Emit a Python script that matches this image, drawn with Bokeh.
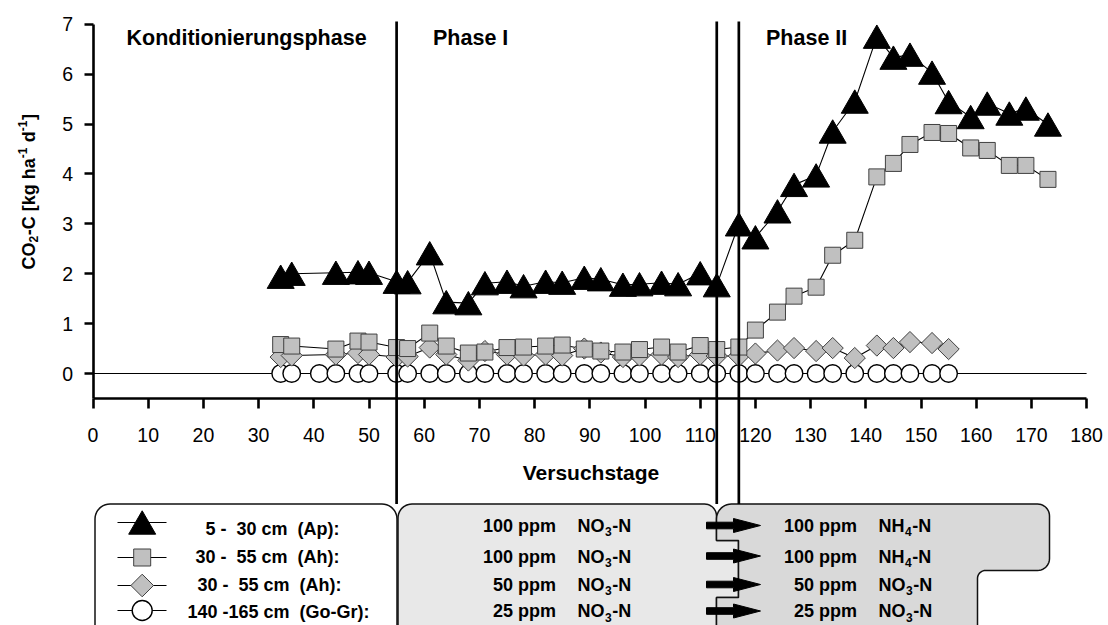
import math
from bokeh.plotting import figure
from bokeh.models import LinearAxis, FixedTicker, Range1d, ColumnDataSource
from bokeh.core.properties import value
from bokeh.transform import dodge
from bokeh.embed import file_html
from bokeh.resources import INLINE

# ---------------- data ----------------
days_ap = [34, 36, 44, 48, 50, 55, 57, 61, 64, 68, 71, 75, 78, 82, 85, 89, 92, 96, 99, 103,
           106, 110, 113, 117, 120, 124, 127, 131, 134, 138, 142, 145, 148, 152, 155, 159, 162, 166, 169, 173]
co2_ap = [1.94, 2.00, 2.02, 2.03, 2.02, 1.84, 1.83, 2.41, 1.43, 1.41, 1.81, 1.84, 1.75, 1.84, 1.82, 1.92, 1.89, 1.78, 1.79, 1.82,
          1.79, 2.01, 1.77, 2.99, 2.73, 3.25, 3.78, 3.97, 4.85, 5.45, 6.75, 6.33, 6.39, 6.03, 5.44, 5.14, 5.41, 5.21, 5.31, 4.99]

days_ah100 = [34, 36, 44, 48, 50, 55, 57, 61, 64, 68, 71, 75, 78, 82, 85, 89, 92, 96, 99, 103,
              106, 110, 113, 117, 120, 124, 127, 131, 134, 138, 142, 145, 148, 152, 155, 159, 162, 166, 169, 173]
co2_ah100 = [0.58, 0.55, 0.49, 0.65, 0.63, 0.52, 0.50, 0.81, 0.55, 0.41, 0.43, 0.52, 0.53, 0.55, 0.57, 0.49, 0.45, 0.43, 0.48, 0.53,
             0.43, 0.56, 0.48, 0.53, 0.87, 1.23, 1.55, 1.73, 2.37, 2.67, 3.94, 4.21, 4.59, 4.83, 4.81, 4.52, 4.47, 4.17, 4.17, 3.89]

days_ah50 = [34, 36, 44, 48, 50, 55, 57, 61, 64, 68, 71, 75, 78, 82, 85, 89, 92, 96, 99, 103,
             106, 110, 113, 117, 120, 124, 127, 131, 134, 138, 142, 145, 148, 152, 155]
co2_ah50 = [0.33, 0.36, 0.38, 0.41, 0.38, 0.33, 0.34, 0.52, 0.38, 0.26, 0.45, 0.38, 0.36, 0.38, 0.36, 0.50, 0.42, 0.33, 0.36, 0.38,
            0.33, 0.38, 0.35, 0.35, 0.40, 0.46, 0.51, 0.45, 0.51, 0.31, 0.56, 0.51, 0.63, 0.61, 0.49]

days_gogr = [34, 36, 41, 44, 48, 50, 55, 57, 61, 64, 68, 71, 75, 78, 82, 85, 89, 92, 96, 99, 103,
             106, 110, 113, 117, 120, 124, 127, 131, 134, 138, 142, 145, 148, 152, 155]
co2_gogr = [0.0, 0.0, 0.0, 0.0, 0.0, 0.0, 0.0, 0.0, 0.0, 0.0, 0.0, 0.0, 0.0, 0.0, 0.0, 0.0, 0.0, 0.0,
            0.0, 0.0, 0.0, 0.0, 0.0, 0.0, 0.0, 0.0, 0.0, 0.0, 0.0, 0.0, 0.0, 0.0, 0.0, 0.0, 0.0, 0.0]

x_ticks = [0, 10, 20, 30, 40, 50, 60, 70, 80, 90, 100, 110, 120, 130, 140, 150, 160, 170, 180]
y_ticks = [0, 1, 2, 3, 4, 5, 6, 7]
phase_days = [55, 113, 117]
phase_names = ["Konditionierungsphase", "Phase I", "Phase II"]
x_title = "Versuchstage"
y_title_parts = [("CO", 0), ("2", 1), ("-C [kg ha", 0), ("-1", -1), ("\u00a0d", 0), ("-1", -1), ("]", 0)]
legend_labels = ["5 -\u00a0\u00a030 cm\u00a0\u00a0(Ap):", "30 -\u00a0\u00a055 cm\u00a0\u00a0(Ah):",
                 "30 -\u00a0\u00a055 cm\u00a0\u00a0(Ah):", "140 -165 cm\u00a0\u00a0(Go-Gr):"]
phase1_conc = ["100 ppm", "100 ppm", "50 ppm", "25 ppm"]
phase1_form = [("NO", "3"), ("NO", "3"), ("NO", "3"), ("NO", "3")]
phase2_conc = ["100 ppm", "100 ppm", "50 ppm", "25 ppm"]
phase2_form = [("NH", "4"), ("NH", "4"), ("NO", "3"), ("NO", "3")]

# ---------------- layout helpers (picture pixels -> data) ----------------
W, H = 1108, 625
PX0, SX = 92.5, 5.52      # picture x of day 0, px per day
PY0, SY = 373.0, 49.9     # picture y of value 0, px per unit

def dx(px):
    return (px - PX0) / SX

def dy(py):
    return (PY0 - py) / SY

AB = {' ': 278, '\u00a0': 278, '-': 333, '[': 333, ']': 333, 'C': 722, 'H': 722, 'N': 722, 'O': 778,
      'a': 556, 'd': 611, 'g': 611, 'h': 611, 'k': 556, '1': 556, '2': 556, '3': 556, '4': 556}

def tw(s, size):
    return sum(AB[c] for c in s) * size / 1000.0

def arc(cx, cy, r, a0, a1, n=10):
    pts = []
    for i in range(n + 1):
        t = math.radians(a0 + (a1 - a0) * i / n)
        pts.append((cx + r * math.cos(t), cy - r * math.sin(t)))
    return pts

FONT = value("Liberation Sans")

p = figure(width=W, height=H, x_range=Range1d(dx(0), dx(W)), y_range=Range1d(dy(H), dy(0)),
           x_axis_type=None, y_axis_type=None, toolbar_location=None, output_backend="svg", min_border=0)
p.outline_line_color = None
p.background_fill_color = "white"
p.border_fill_color = "white"

# ---------------- bottom boxes ----------------
def add_poly(pts, fill, line="#111111", lw=1.5):
    p.patch([dx(a) for a, b in pts], [dy(b) for a, b in pts], fill_color=fill, line_color=line, line_width=lw)

top, bot = 503.5, 640
lb = arc(94.5 + 15, top + 15, 15, 180, 90) + arc(396.5 - 15, top + 15, 15, 90, 0) + \
     arc(396.5 - 15, bot - 15, 15, 0, -90) + arc(94.5 + 15, bot - 15, 15, -90, -180)
add_poly(lb, "white")

mb = [(397.5, bot)] + arc(397.5 + 14, top + 14, 14, 180, 90) + arc(716 - 12, top + 12, 12, 90, 0) + \
     [(716, 540), (738, 540), (738, 597), (716, 597), (716, bot)]
add_poly(mb, "#e8e8e8")

rb = [(716, bot), (716, 597), (738, 597), (738, 540), (716, 540)] + arc(716 + 15, top + 15, 15, 180, 90) + \
     arc(1049 - 12, top + 12, 12, 90, 0) + arc(1049 - 12, 570 - 12, 12, 0, -90) + \
     arc(977 + 8, 570 + 8, 8, 90, 180) + arc(977 - 12, bot - 12, 12, 0, -90)
add_poly(rb, "#d9d9d9")

# arrows
row_c = [525, 555.5, 584, 610.5]
axs, ays = [], []
for c in row_c:
    pts = [(706, c - 3.3), (733, c - 3.3), (733, c - 7), (760, c), (733, c + 7), (733, c + 3.3), (706, c + 3.3)]
    axs.append([dx(a) for a, b in pts])
    ays.append([dy(b) for a, b in pts])
p.patches(axs, ays, fill_color="black", line_color="black", line_width=1)

# ---------------- axes ----------------
xaxis = LinearAxis(fixed_location=-0.5, bounds=(x_ticks[0], x_ticks[-1]), ticker=FixedTicker(ticks=x_ticks),
                   axis_line_width=2.6, axis_line_color="black",
                   major_tick_line_width=2.6, major_tick_out=10, major_tick_in=0,
                   minor_tick_out=0, minor_tick_in=0,
                   major_label_text_font="Liberation Sans", major_label_text_font_size="19.5px",
                   major_label_text_color="black", major_label_standoff=20)
p.add_layout(xaxis, "below")
yaxis = LinearAxis(fixed_location=0, bounds=(-0.5, y_ticks[-1]), ticker=FixedTicker(ticks=y_ticks),
                   axis_line_width=2.6, axis_line_color="black",
                   major_tick_line_width=2.6, major_tick_out=9, major_tick_in=0,
                   minor_tick_out=0, minor_tick_in=0,
                   major_label_text_font="Liberation Sans", major_label_text_font_size="19.5px",
                   major_label_text_color="black", major_label_standoff=11)
p.add_layout(yaxis, "left")

# zero line
p.line([x_ticks[0], x_ticks[-1]], [0, 0], line_color="black", line_width=1)

# ---------------- series ----------------
p.line(days_gogr, co2_gogr, line_color="black", line_width=1.1)
p.line(days_ah50, co2_ah50, line_color="black", line_width=1.1)
p.line(days_ah100, co2_ah100, line_color="black", line_width=1.1)
p.line(days_ap, co2_ap, line_color="black", line_width=1.1)

p.scatter(days_gogr, co2_gogr, marker="circle", size=17.5, fill_color="white", line_color="black", line_width=1.4)
p.scatter(days_ah50, co2_ah50, marker="square", angle=math.pi / 4, size=15, fill_color="#c0c0c0",
          line_color="#404040", line_width=1)
p.scatter(days_ah100, co2_ah100, marker="square", size=16, fill_color="#c0c0c0", line_color="#404040", line_width=1)
src_ap = ColumnDataSource(dict(x=days_ap, y=co2_ap))
TRI = 27
tri_shift = TRI * math.sqrt(3) / 2 / 6 / SY
p.scatter(x="x", y=dodge("y", -tri_shift), source=src_ap, marker="triangle", size=TRI,
          fill_color="black", line_color="black", line_width=1)

# phase lines
p.segment(x0=phase_days, y0=[dy(21)] * 3, x1=phase_days, y1=[dy(top)] * 3, line_color="black", line_width=2.7)

# ---------------- texts (anchors are visual centre lines) ----------------
def txt(xs, ys, texts, size, bold=True, align="left", angle=0.0):
    p.text(x=xs, y=ys, text=texts, text_font=FONT, text_font_style="bold" if bold else "normal",
           text_font_size=size, text_align=align, text_baseline="middle", angle=angle, text_color="black")

# phase names
txt([dx(126), dx(432.5), dx(765.5)], [dy(37)] * 3, phase_names, "21.5px")
# x title
txt([dx(590.5)], [dy(471.5)], [x_title], "21px", align="center")

# y title (rotated, pieces for sub/superscripts)
ypos = 269.0
for part, kind in y_title_parts:
    size = 18 if kind == 0 else 12
    cx = {0: 28.5, 1: 33.0, -1: 22.0}[kind]
    txt([dx(cx)], [dy(ypos)], [part], "%dpx" % size, angle=math.pi / 2)
    ypos -= tw(part, size) + (0.5 if kind != 0 else 0)

# legend box
leg_c = [528, 556, 584, 611]
leg_x = [205, 195, 197, 187]
txt([dx(v) for v in leg_x], [dy(v) for v in leg_c], legend_labels, "18px")
mark_y = [522, 557, 585, 610]
p.segment(x0=[dx(117)] * 4, y0=[dy(v) for v in mark_y], x1=[dx(166)] * 4, y1=[dy(v) for v in mark_y],
          line_color="black", line_width=1.2)
mx = dx(141.7)
p.scatter([mx], [dy(mark_y[0] + TRI * math.sqrt(3) / 2 / 6)], marker="triangle", size=TRI,
          fill_color="black", line_color="black")
p.scatter([mx], [dy(mark_y[1])], marker="square", size=17, fill_color="#c0c0c0", line_color="#404040", line_width=1)
p.scatter([mx], [dy(mark_y[2])], marker="square", angle=math.pi / 4, size=16, fill_color="#c0c0c0",
          line_color="#404040", line_width=1)
p.scatter([mx], [dy(mark_y[3])], marker="circle", size=20, fill_color="white", line_color="black", line_width=1.4)

# treatment boxes
row_mid = [525, 556, 584, 610.5]

def treatment(conc, forms, right_px, form_px):
    txt([dx(right_px)] * 4, [dy(v) for v in row_mid], conc, "18px", align="right")
    bx, sx_, ex = [], [], []
    for (b, s) in forms:
        w1 = tw(b, 18)
        w2 = tw(s, 12)
        bx.append(form_px)
        sx_.append(form_px + w1 + 0.5)
        ex.append(form_px + w1 + w2 + 1.0)
    txt([dx(v) for v in bx], [dy(v) for v in row_mid], [b for b, s in forms], "18px")
    txt([dx(v) for v in sx_], [dy(v + 6) for v in row_mid], [s for b, s in forms], "12px")
    txt([dx(v) for v in ex], [dy(v) for v in row_mid], ["-N"] * len(forms), "18px")

treatment(phase1_conc, phase1_form, 555.5, 577)
treatment(phase2_conc, phase2_form, 856.5, 878)

open("out.html", "w").write(file_html(p, INLINE))
